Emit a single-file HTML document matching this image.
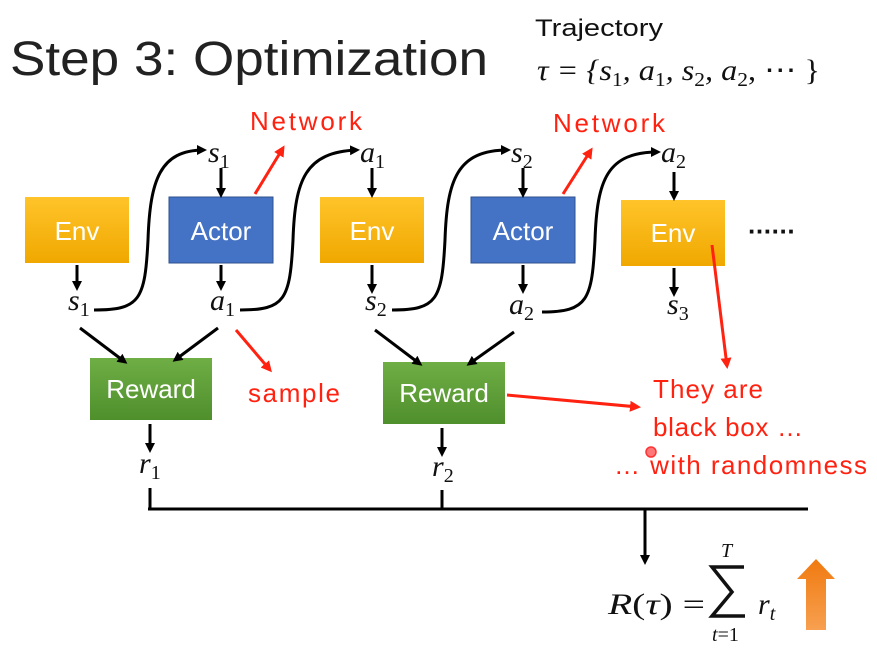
<!DOCTYPE html>
<html><head><meta charset="utf-8"><style>
body{margin:0;background:#fff;}
svg{display:block}
.b{font-family:"Liberation Sans",sans-serif;}
.m{font-family:"Liberation Serif",serif;font-style:italic;}
</style></head><body>
<svg width="877" height="649" viewBox="0 0 877 649">
<defs>
<marker id="ak" markerWidth="10" markerHeight="10" refX="7" refY="5" orient="auto" markerUnits="userSpaceOnUse" viewBox="0 0 10 10"><path d="M0,0 L10,5 L0,10 z" fill="#000"/></marker>
<marker id="ar" markerWidth="11" markerHeight="11" refX="8" refY="5.5" orient="auto" markerUnits="userSpaceOnUse" viewBox="0 0 11 11"><path d="M0,0 L11,5.5 L0,11 z" fill="#f21"/></marker>
<linearGradient id="y" x1="0" y1="0" x2="0" y2="1"><stop offset="0" stop-color="#ffc42a"/><stop offset="1" stop-color="#f0a800"/></linearGradient>
<linearGradient id="g" x1="0" y1="0" x2="0" y2="1"><stop offset="0" stop-color="#6fae45"/><stop offset="1" stop-color="#4f8f2c"/></linearGradient>
<linearGradient id="o" x1="0" y1="0" x2="0" y2="1"><stop offset="0" stop-color="#f07a10"/><stop offset="1" stop-color="#f7a050"/></linearGradient>
</defs>
<text x="10" y="75" class="b" font-size="48" fill="#222" textLength="478" lengthAdjust="spacingAndGlyphs">Step 3: Optimization</text>
<text x="535" y="36" class="b" font-size="24" fill="#111" textLength="128" lengthAdjust="spacingAndGlyphs">Trajectory</text>
<text x="537" y="80" class="m" font-size="30" fill="#111" textLength="283" lengthAdjust="spacingAndGlyphs">τ = {s<tspan font-size="20" dy="6" font-style="normal">1</tspan><tspan dy="-6">, a</tspan><tspan font-size="20" dy="6" font-style="normal">1</tspan><tspan dy="-6">, s</tspan><tspan font-size="20" dy="6" font-style="normal">2</tspan><tspan dy="-6">, a</tspan><tspan font-size="20" dy="6" font-style="normal">2</tspan><tspan dy="-6" font-style="normal">, ⋯ }</tspan></text>

<g class="b" font-size="26" fill="#fff" text-anchor="middle">
<rect x="25" y="197" width="104" height="66" fill="url(#y)"/><text x="77" y="240">Env</text>
<rect x="169" y="197" width="104" height="66" fill="#4472c4" stroke="#2f528f"/><text x="221" y="240">Actor</text>
<rect x="320" y="197" width="104" height="66" fill="url(#y)"/><text x="372" y="240">Env</text>
<rect x="471" y="197" width="104" height="66" fill="#4472c4" stroke="#2f528f"/><text x="523" y="240">Actor</text>
<rect x="621" y="200" width="104" height="66" fill="url(#y)"/><text x="673" y="242">Env</text>
<rect x="90" y="358" width="122" height="62" fill="url(#g)"/><text x="151" y="398">Reward</text>
<rect x="383" y="362" width="122" height="62" fill="url(#g)"/><text x="444" y="402">Reward</text>
</g>
<text x="748" y="240" class="b" font-size="26" font-weight="bold" fill="#111" textLength="48">······</text>

<g class="m" font-size="30" fill="#111">
<text x="208" y="162">s<tspan font-size="20" dy="6" font-style="normal">1</tspan></text>
<text x="360" y="162">a<tspan font-size="20" dy="6" font-style="normal">1</tspan></text>
<text x="511" y="162">s<tspan font-size="20" dy="6" font-style="normal">2</tspan></text>
<text x="661" y="162">a<tspan font-size="20" dy="6" font-style="normal">2</tspan></text>
<text x="68" y="310">s<tspan font-size="20" dy="6" font-style="normal">1</tspan></text>
<text x="210" y="310">a<tspan font-size="20" dy="6" font-style="normal">1</tspan></text>
<text x="365" y="310">s<tspan font-size="20" dy="6" font-style="normal">2</tspan></text>
<text x="509" y="314">a<tspan font-size="20" dy="6" font-style="normal">2</tspan></text>
<text x="667" y="314">s<tspan font-size="20" dy="6" font-style="normal">3</tspan></text>
<text x="139" y="473">r<tspan font-size="20" dy="6" font-style="normal">1</tspan></text>
<text x="432" y="476">r<tspan font-size="20" dy="6" font-style="normal">2</tspan></text>
</g>

<g stroke="#000" stroke-width="3" fill="none" marker-end="url(#ak)">
<path d="M77 265 V288"/><path d="M221 168 V195"/><path d="M221 265 V288"/>
<path d="M372 168 V195"/><path d="M372 265 V291"/><path d="M523 168 V195"/><path d="M523 265 V291"/>
<path d="M674 172 V198"/><path d="M674 268 V294"/>
<path d="M94 310 C140 310 145 300 148 240 C150 180 160 150 204 150"/>
<path d="M240 310 C285 310 290 300 293 240 C295 180 305 152 357 150"/>
<path d="M392 310 C437 310 442 300 445 240 C447 180 457 150 508 150"/>
<path d="M542 312 C588 312 592 300 595 240 C597 180 607 152 658 152"/>
<path d="M80 328 L125 362"/><path d="M218 328 L175 360"/>
<path d="M375 330 L420 364"/><path d="M514 332 L469 364"/>
<path d="M150 424 V450"/><path d="M442 428 V454"/>
<path d="M645 509 V562"/>
</g>
<g stroke="#000" stroke-width="3" fill="none">
<path d="M148 509 H808"/><path d="M150 488 V509"/><path d="M442 490 V509"/>
</g>

<g stroke="#f21" stroke-width="3" fill="none" marker-end="url(#ar)">
<path d="M255 194 L283 148"/><path d="M563 194 L591 150"/>
<path d="M236 330 L270 370"/><path d="M712 245 L727 366"/>
<path d="M507 395 L638 407"/>
</g>
<g class="b" font-size="26" fill="#f21" lengthAdjust="spacingAndGlyphs">
<text x="250" y="130" textLength="112">Network</text><text x="553" y="132" textLength="112">Network</text>
<text x="248" y="402" textLength="92">sample</text>
<text x="653" y="398" textLength="110">They are</text>
<text x="653" y="436" textLength="150">black box …</text>
<text x="614" y="474" textLength="253">… with randomness</text>
</g>
<circle cx="651" cy="452" r="5" fill="#f77" stroke="#f33" stroke-width="1.5"/>

<g class="m" fill="#111">
<text x="608" y="614" font-size="30" textLength="97" lengthAdjust="spacingAndGlyphs">R<tspan font-style="normal">(</tspan>τ<tspan font-style="normal">) =</tspan></text>
<path d="M744 567 H712 L732 592 L712 616 H745" fill="none" stroke="#111" stroke-width="3.5"/>
<text x="721" y="557" font-size="20">T</text>
<text x="712" y="641" font-size="20">t<tspan font-style="normal">=1</tspan></text>
<text x="758" y="614" font-size="30">r<tspan font-size="20" dy="6">t</tspan></text>
</g>
<path d="M797 579 L816 559 L835 579 L826 579 L826 630 L806 630 L806 579 z" fill="url(#o)"/>
</svg>
</body></html>
